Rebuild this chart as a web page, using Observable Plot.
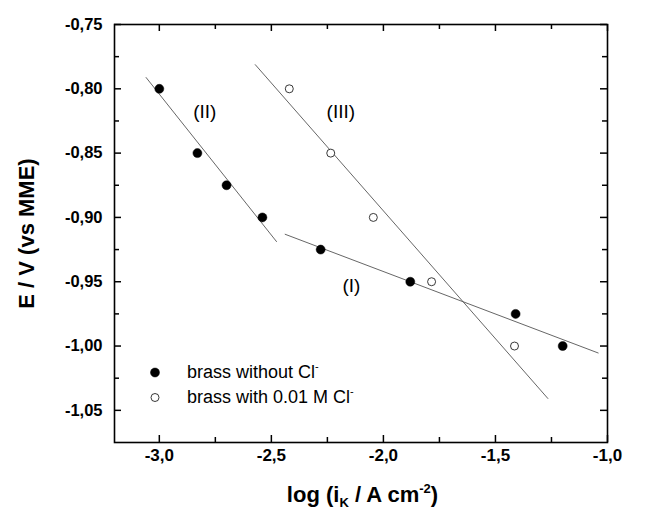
<!DOCTYPE html>
<html><head><meta charset="utf-8">
<script src="https://cdn.jsdelivr.net/npm/d3@7"></script>
<script src="https://cdn.jsdelivr.net/npm/@observablehq/plot@0.6"></script>
<style>
body{margin:0;background:#fff}
#chart svg{font-family:Arial,"Liberation Sans",sans-serif;background:#fff}
</style>
</head><body><div id="chart"></div>
<script>
// brass without Cl- (filled)
const xWithout = [-3.0, -2.83, -2.70, -2.54, -2.28, -1.88, -1.41, -1.20];
const yWithout = [-0.80, -0.85, -0.875, -0.90, -0.925, -0.95, -0.975, -1.00];
// brass with 0.01 M Cl- (open)
const xWith = [-2.42, -2.235, -2.045, -1.785, -1.415];
const yWith = [-0.80, -0.85, -0.90, -0.95, -1.00];
// fitted lines
const fitNames = ["(I)", "(II)", "(III)"];
const fitX1 = [-2.44, -3.06, -2.573];
const fitY1 = [-0.913, -0.791, -0.781];
const fitX2 = [-1.04, -2.476, -1.265];
const fitY2 = [-1.0055, -0.919, -1.041];
const labelX = [-2.143, -2.797, -2.19];
const labelY = [-0.953, -0.818, -0.818];
// ticks
const xMajor = [-3.0, -2.5, -2.0, -1.5, -1.0];
const xMinor = [-2.75, -2.25, -1.75, -1.25];
const yMajor = [-0.75, -0.80, -0.85, -0.90, -0.95, -1.00, -1.05];
const yMinor = [-0.775, -0.825, -0.875, -0.925, -0.975, -1.025];
const legendLabels = ["brass without Cl", "brass with 0.01 M Cl"];

const W = 645, H = 514, mt = 24, mr = 38, mb = 72, ml = 114;
const ph = H - mt - mb, pw = W - ml - mr;
const filled = xWithout.map((x, i) => ({x, y: yWithout[i]}));
const open = xWith.map((x, i) => ({x, y: yWith[i]}));
const fits = fitNames.map((n, i) => ({n, x1: fitX1[i], y1: fitY1[i], x2: fitX2[i], y2: fitY2[i], lx: labelX[i], ly: labelY[i]}));
const fmtX = d => d.toFixed(1).replace(".", ",");
const fmtY = d => d.toFixed(2).replace(".", ",");

const plot = Plot.plot({
  width: W, height: H, marginTop: mt, marginRight: mr, marginBottom: mb, marginLeft: ml,
  x: {domain: [-3.2, -1.0]},
  y: {domain: [-1.075, -0.75]},
  style: {fontFamily: "Arial, 'Liberation Sans', sans-serif", background: "#fff", color: "#000"},
  marks: [
    Plot.link(fits, {x1: "x1", y1: "y1", x2: "x2", y2: "y2", stroke: "#555", strokeWidth: 0.9}),
    Plot.dot(filled, {x: "x", y: "y", r: 4.5, fill: "#000", stroke: "#000", strokeWidth: 0.5}),
    Plot.dot(open, {x: "x", y: "y", r: 4, fill: "#fff", stroke: "#222", strokeWidth: 0.9}),
    Plot.text(fits, {x: "lx", y: "ly", text: "n", fontSize: 19, textAnchor: "middle", lineAnchor: "middle", fill: "#000"}),
    Plot.ruleX(xMajor, {insetTop: ph - 7, stroke: "#000", strokeWidth: 1.5}),
    Plot.ruleX(xMajor, {insetBottom: ph - 7, stroke: "#000", strokeWidth: 1.5}),
    Plot.ruleX(xMinor, {insetTop: ph - 5, stroke: "#000", strokeWidth: 1.5}),
    Plot.ruleX(xMinor, {insetBottom: ph - 5, stroke: "#000", strokeWidth: 1.5}),
    Plot.ruleY(yMajor, {insetRight: pw - 7, stroke: "#000", strokeWidth: 1.5}),
    Plot.ruleY(yMajor, {insetLeft: pw - 7, stroke: "#000", strokeWidth: 1.5}),
    Plot.ruleY(yMinor, {insetRight: pw - 5, stroke: "#000", strokeWidth: 1.5}),
    Plot.ruleY(yMinor, {insetLeft: pw - 5, stroke: "#000", strokeWidth: 1.5}),
    Plot.frame({stroke: "#000", strokeWidth: 1.6}),
    Plot.axisX({ticks: xMajor, tickSize: 0, tickPadding: 6, tickFormat: fmtX, fontSize: 17, fontWeight: "bold", label: null}),
    Plot.axisY({ticks: yMajor, tickSize: 0, tickPadding: 12, tickFormat: fmtY, fontSize: 16.5, fontWeight: "bold", label: null}),
    Plot.text(["E / V (vs MME)"], {frameAnchor: "left", dx: -88, rotate: -90, fontSize: 22, fontWeight: "bold", textAnchor: "middle", lineAnchor: "middle", fill: "#000"})
  ]
});
document.getElementById("chart").appendChild(plot);

// x axis title with sub/superscripts, and legend
const svg = d3.select(plot);
const cx = (ml + (W - mr)) / 2 + 2;
const t = svg.append("text").attr("x", cx).attr("y", 502).attr("text-anchor", "middle")
  .attr("font-size", 22).attr("font-weight", "bold").attr("fill", "#000");
t.append("tspan").text("log (i");
t.append("tspan").attr("font-size", 13).attr("dy", 5).text("K");
t.append("tspan").attr("dy", -5).text(" / A cm");
t.append("tspan").attr("font-size", 13).attr("dy", -9).text("-2");
t.append("tspan").attr("dy", 9).text(")");

const leg = svg.append("g").attr("font-size", 18).attr("fill", "#000").attr("text-anchor", "start");
const legY = [378, 403];
legendLabels.forEach((lab, i) => {
  const c = leg.append("circle").attr("cx", 155).attr("cy", legY[i] - 5.5).attr("r", i === 0 ? 4.5 : 4);
  if (i === 0) c.attr("fill", "#000").attr("stroke", "#000").attr("stroke-width", 0.5);
  else c.attr("fill", "#fff").attr("stroke", "#222").attr("stroke-width", 0.9);
  const tx = leg.append("text").attr("x", 187).attr("y", legY[i]).attr("text-anchor", "start");
  tx.append("tspan").text(lab);
  tx.append("tspan").attr("font-size", 11).attr("dy", -8).text("-");
});
</script>
</body></html>
